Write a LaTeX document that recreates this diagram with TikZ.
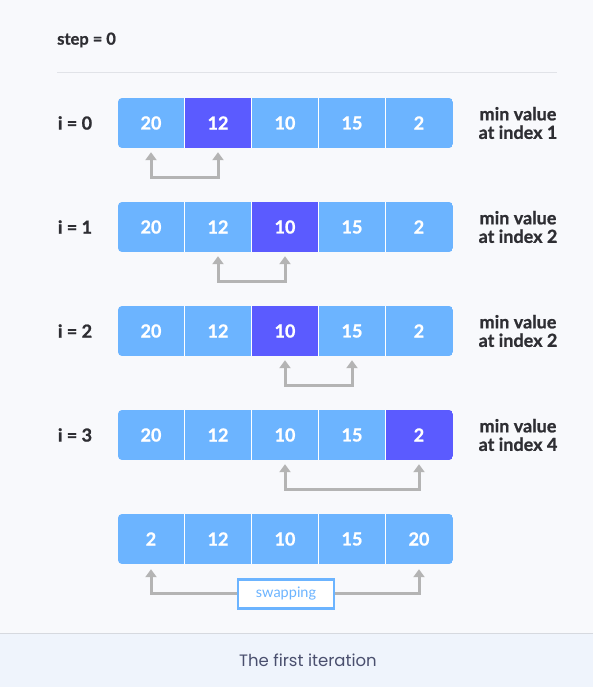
\documentclass[tikz,border=0pt]{standalone}
\usepackage{fontspec}
\setmainfont{Lato}[BoldFeatures={FakeBold=1}]
\newfontfamily\capfont{Poppins}
\usetikzlibrary{arrows.meta}

\definecolor{bgpage}{HTML}{F8F9FC}
\definecolor{cellblue}{HTML}{6CB4FF}
\definecolor{minblue}{HTML}{5B5BFF}
\definecolor{arrowgray}{HTML}{B4B4B4}
\definecolor{txtdark}{HTML}{2E2E33}
\definecolor{footbg}{HTML}{EFF4FC}
\definecolor{footline}{HTML}{D6D9DF}
\definecolor{foottxt}{HTML}{4A4F6E}
\definecolor{rulegray}{HTML}{E1E3E8}

\tikzset{
  cell/.style={minimum width=67pt,minimum height=50pt,inner sep=0pt,text=white,
    font=\bfseries\fontsize{18}{18}\selectfont},
  rowlabel/.style={text=txtdark,inner sep=0pt,font=\bfseries\fontsize{18}{18}\selectfont},
  minlabel/.style={text=txtdark,align=center,inner sep=0pt,font=\bfseries\fontsize{18}{18.5}\selectfont},
  swaparrow/.style={draw=arrowgray,line width=3pt},
  graytip/.tip={Triangle[length=8pt,width=11pt]},
}

\begin{document}
\begin{tikzpicture}[x=1pt,y=1pt]
        \useasboundingbox (0,0) rectangle (593,687);
        \fill[bgpage] (0,0) rectangle (593,687);
        \fill[footbg] (0,0) rectangle (593,54);
        \draw[footline] (0,54) -- (593,54);
        \node[rowlabel,anchor=west,font=\bfseries\fontsize{16.5}{16.5}\selectfont] (step) at (57,647) {step = 0};
        \draw[rulegray] (57,615) -- (557,615);
        % the five rows of the array
        \foreach \r/\vals/\hi in {0/{20,12,10,15,2}/1, 1/{20,12,10,15,2}/2, 2/{20,12,10,15,2}/2,
                                  3/{20,12,10,15,2}/4, 4/{2,12,10,15,20}/9} {
          \pgfmathsetmacro\yc{564-104*\r}
          \begin{scope}
            \clip[rounded corners=4pt] (118,\yc-25) rectangle (453,\yc+25);
            \foreach \v [count=\c from 0] in \vals {
              \ifnum\c=\hi \def\cc{minblue}\else\def\cc{cellblue}\fi
              \node[cell,fill=\cc] (r\r c\c) at (151+67*\c,\yc) {\v};
            }
            \foreach \c in {1,...,4}
              \draw[white,line width=1pt] (r\r c\c.north west) -- (r\r c\c.south west);
          \end{scope}
        }
        \foreach \r/\idx in {0/1,1/2,2/2,3/4} {
          \node[rowlabel] (i\r) at (75,564-104*\r) {i = \r};
          \node[minlabel] (m\r) at (518,564-104*\r) {min value\\at index \idx};
        }
        % compare arrows
        \foreach \r/\a/\b in {0/0/1,1/1/2,2/2/3,3/2/4}
          \draw[swaparrow,graytip-graytip] ([yshift=-4pt]r\r c\a.south) -- ++(0,-25) -| ([yshift=-4pt]r\r c\b.south);
        \node[draw=cellblue,line width=2.5pt,fill=white,text=cellblue,minimum width=96pt,
              minimum height=29pt,font=\fontsize{14.5}{14.5}\selectfont] (swap) at (286,93) {swapping};
        \draw[swaparrow,graytip-] ([yshift=-5pt]r4c0.south) |- (swap.west);
        \draw[swaparrow,graytip-] ([yshift=-5pt]r4c4.south) |- (swap.east);
        \node[text=foottxt,font=\capfont\fontsize{16.5}{16.5}\selectfont] (cap) at (308,27) {The first iteration};
      \end{tikzpicture}
\end{document}
